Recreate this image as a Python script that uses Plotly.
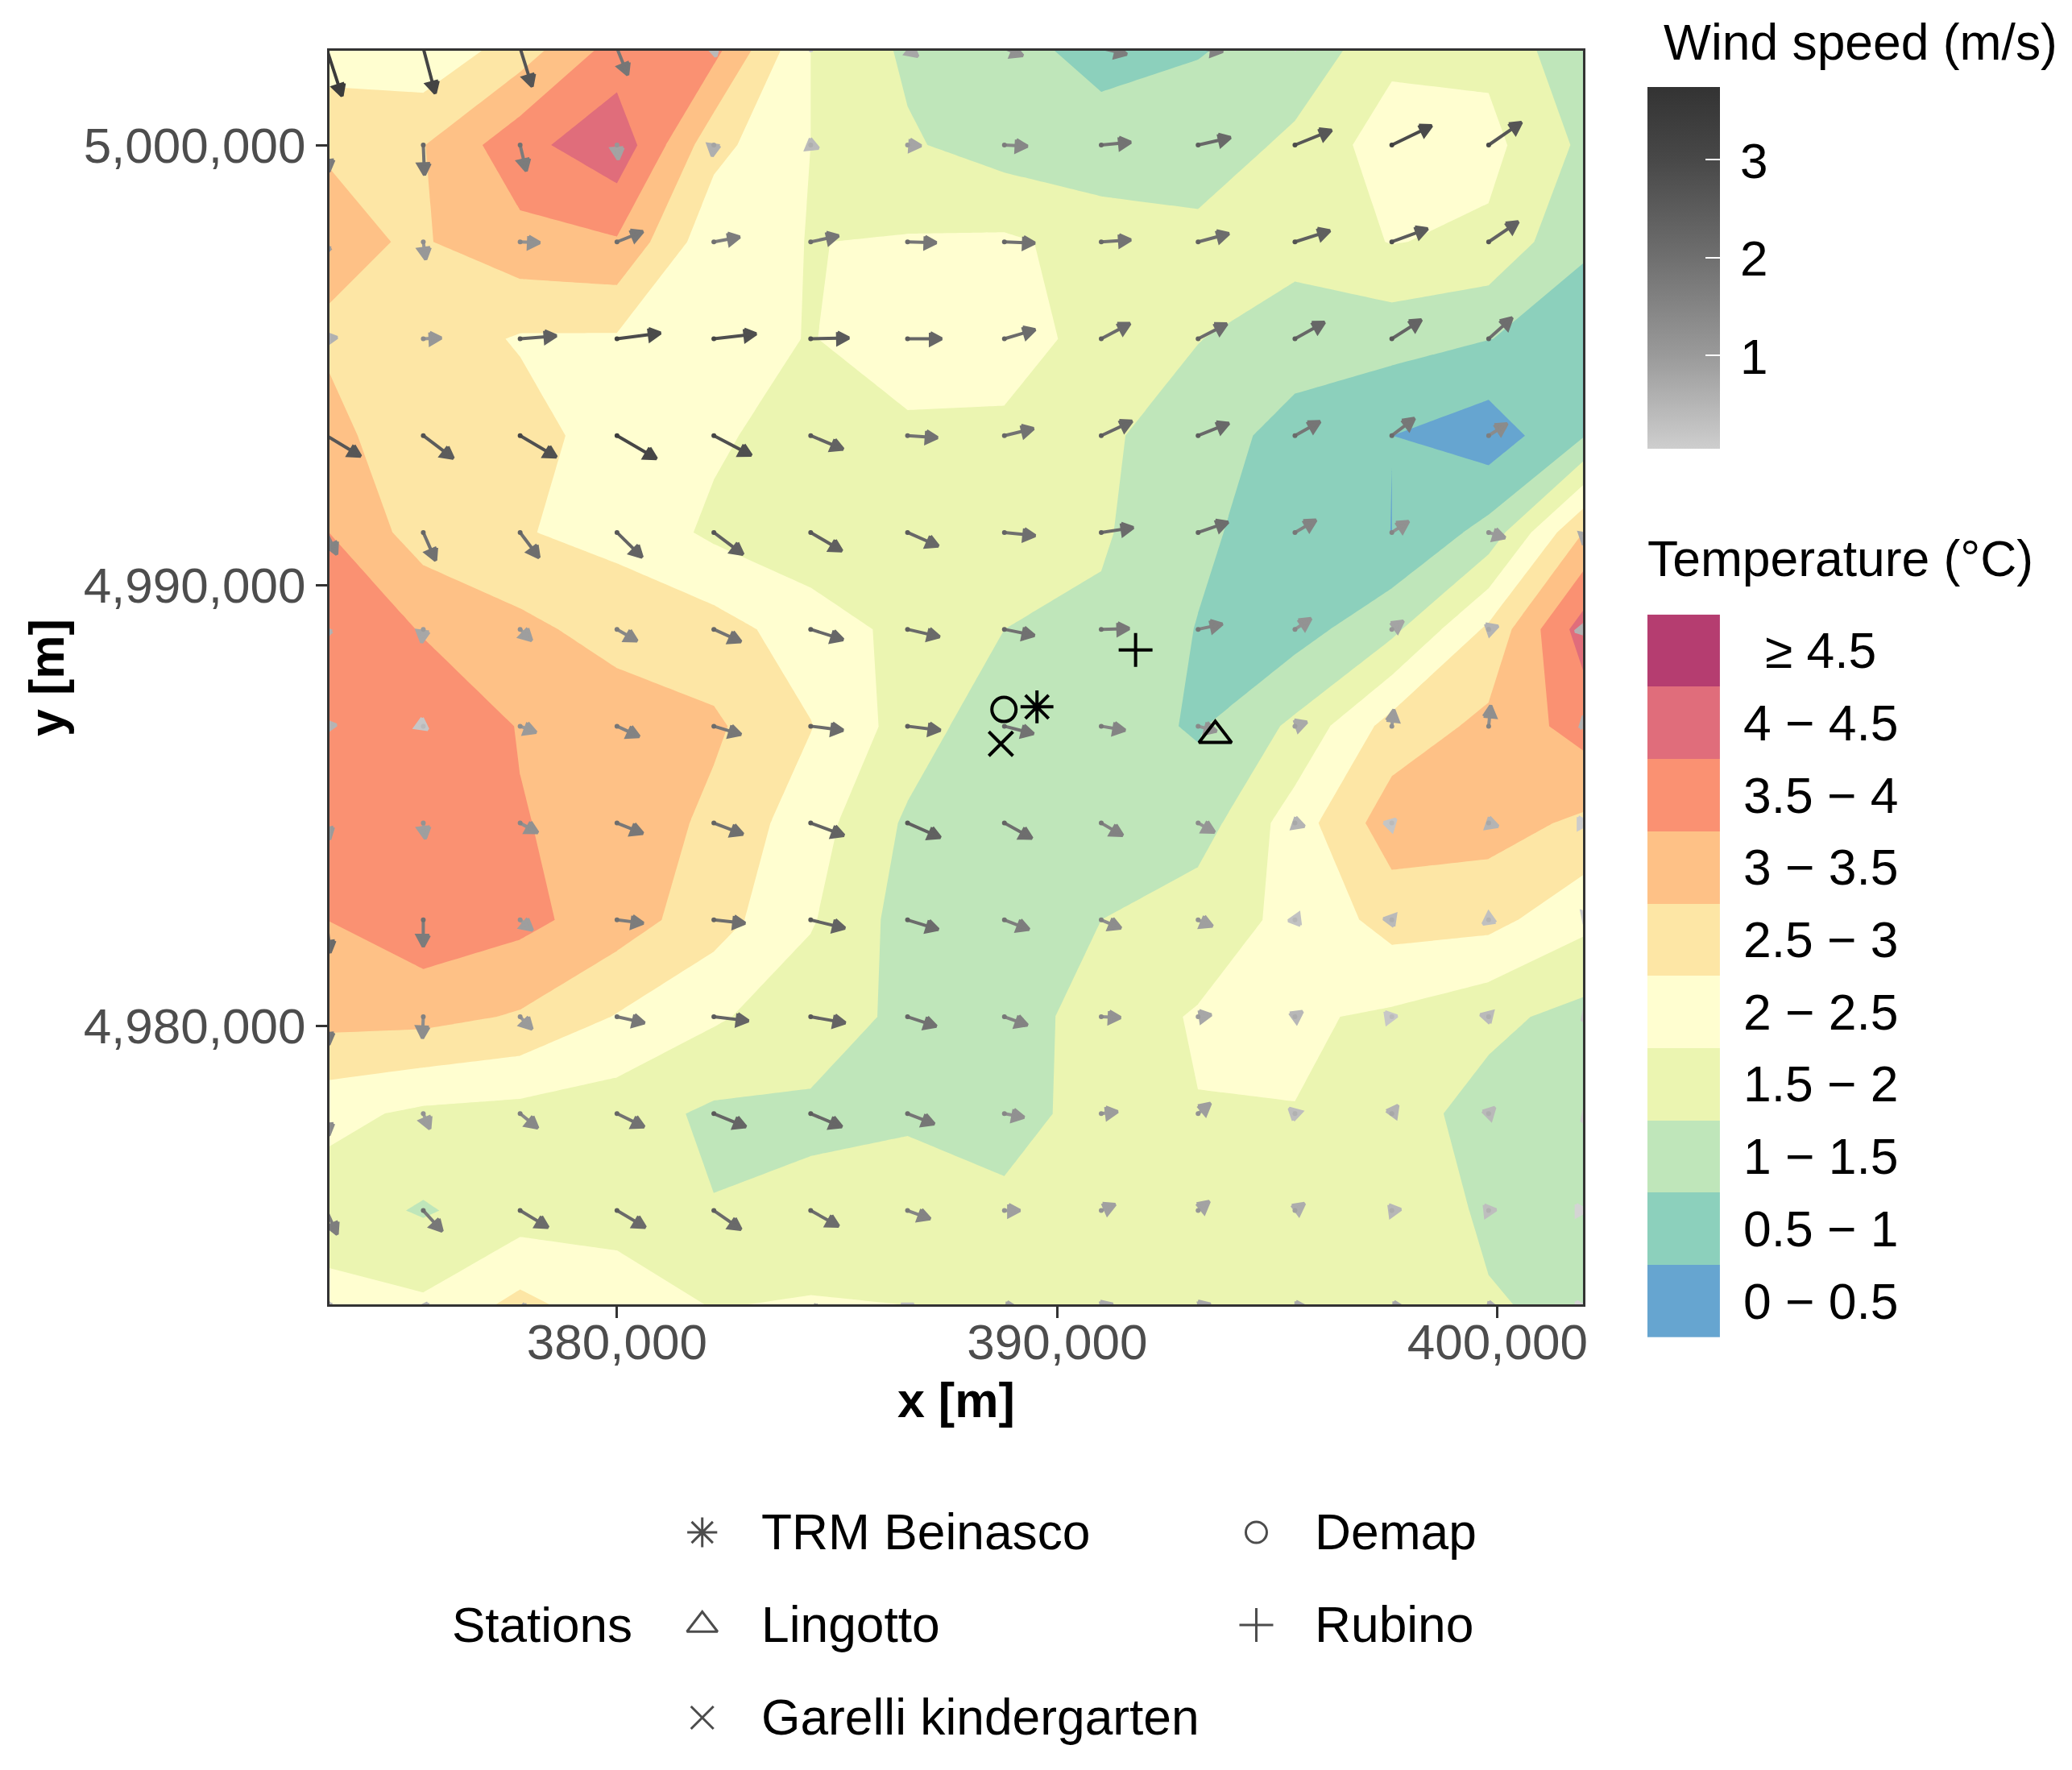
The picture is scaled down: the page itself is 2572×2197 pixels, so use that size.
import numpy as np
import plotly.graph_objects as go

# UTM grid of the model output (m)
grid_x = [373400, 375600, 377800, 380000, 382200, 384400, 386600,
          388800, 391000, 393200, 395400, 397600, 399800, 402000]
grid_y = [5002200, 5000000, 4997800, 4995600, 4993400, 4991200, 4989000,
          4986800, 4984600, 4982400, 4980200, 4978000, 4975800, 4973600]

# temperature (deg C), first row is the northern one
temperature = [
    [2.18, 2.09, 2.73, 3.70, 3.67, 2.00, 1.41, 1.11, 0.885, 0.98, 1.11, 1.87, 1.87, 1.11],
    [2.98, 2.98, 3.83, 4.36, 2.66, 2.00, 1.56, 1.27, 1.14, 1.15, 1.63, 2.25, 2.15, 1.38],
    [3.08, 2.96, 3.34, 3.45, 2.14, 1.99, 2.04, 2.08, 1.82, 1.68, 1.73, 2.02, 1.90, 1.05],
    [2.96, 2.78, 2.45, 2.44, 2.18, 1.98, 2.25, 2.20, 1.84, 1.52, 1.17, 1.19, 1.01, 0.80],
    [3.10, 2.79, 2.72, 2.25, 2.08, 1.77, 1.91, 1.91, 1.61, 1.17, 0.87, 0.5015, 0.20, 1.00],
    [3.52, 2.76, 2.53, 2.36, 1.905, 1.67, 1.67, 1.68, 1.56, 1.10, 0.72, 0.497, 1.18, 3.05],
    [3.85, 3.47, 3.13, 2.80, 2.70, 2.25, 1.86, 1.50, 1.41, 0.98, 0.79, 1.37, 2.60, 4.28],
    [3.85, 3.80, 3.48, 3.30, 3.08, 2.52, 1.78, 1.14, 1.20, 0.95, 1.60, 2.70, 3.13, 3.72],
    [3.90, 3.85, 3.52, 3.36, 2.88, 2.23, 1.42, 1.20, 1.25, 1.25, 2.25, 3.28, 3.20, 2.90],
    [3.50, 3.85, 3.64, 3.25, 2.71, 2.05, 1.29, 1.20, 1.50, 1.80, 2.10, 2.70, 2.66, 2.13],
    [3.17, 3.16, 2.95, 2.47, 2.07, 1.70, 1.41, 1.12, 1.84, 2.03, 2.07, 1.92, 1.63, 1.33],
    [2.15, 1.90, 1.83, 1.72, 1.41, 1.43, 1.47, 1.30, 1.70, 1.99, 1.99, 1.73, 1.30, 1.20],
    [1.73, 1.45, 1.75, 1.86, 1.52, 1.59, 1.60, 1.61, 1.75, 1.85, 1.85, 1.90, 1.40, 1.20],
    [2.19, 2.10, 2.67, 2.20, 1.99, 2.06, 2.01, 1.84, 1.80, 1.80, 1.75, 1.65, 1.55, 1.37],
]

# wind components (m/s), same order as temperature
wind_u = [
    [1.15, 0.88, 0.88, 0.79, 0.15, 0.03, 0.76, 1.36, 1.88, 1.82, 0.09, 2.12, 2.12, 1.52],
    [0.18, 0.09, 0.45, 0.09, -0.12, 0.58, 1.00, 1.70, 2.18, 2.39, 2.70, 2.94, 2.42, 2.12],
    [-0.30, 0.18, 1.45, 1.91, 1.91, 2.06, 2.12, 2.24, 2.18, 2.27, 2.58, 2.64, 2.18, 1.82],
    [0.79, 1.33, 2.67, 3.21, 3.12, 2.82, 2.52, 2.27, 2.12, 2.12, 2.18, 2.18, 1.73, 1.36],
    [2.52, 2.21, 2.67, 2.91, 2.76, 2.39, 2.21, 2.15, 2.27, 2.27, 1.85, 1.67, 1.36, 1.21],
    [0.76, 0.91, 1.39, 1.85, 2.15, 2.30, 2.27, 2.27, 2.36, 2.21, 1.55, 1.24, 1.21, -0.15],
    [-0.30, -0.12, 0.85, 1.48, 2.00, 2.39, 2.36, 2.21, 2.06, 1.79, 1.18, 0.85, 0.70, -0.76],
    [0.73, 0.33, 1.18, 1.64, 2.00, 2.39, 2.42, 2.15, 1.76, 1.36, 0.88, 0.15, 0.15, -0.15],
    [0.24, 0.15, 1.30, 1.91, 2.15, 2.45, 2.42, 2.03, 1.58, 1.21, 0.70, 0.30, 0.70, 0.30],
    [0.27, 0.00, 0.91, 1.94, 2.30, 2.52, 2.27, 1.82, 1.45, 1.06, -0.48, -0.61, -0.42, -0.09],
    [0.18, -0.06, 0.88, 2.03, 2.55, 2.55, 2.12, 1.70, 1.42, 0.97, 0.55, 0.39, -0.61, -0.24],
    [0.18, 0.48, 1.30, 2.00, 2.36, 2.30, 1.97, 1.45, 1.21, 0.91, -0.42, 0.45, 0.45, -0.09],
    [0.79, 1.39, 2.06, 2.09, 2.00, 2.06, 1.67, 1.15, 1.03, 0.82, 0.70, 0.67, 0.55, 0.15],
    [0.30, 0.30, 0.61, 0.76, 0.91, 0.76, 0.45, 1.00, 0.85, 0.91, 0.91, 0.97, 0.76, 0.15],
]
wind_v = [
    [-3.52, -3.33, -2.82, -1.97, -0.61, -0.24, -0.61, -0.55, -0.45, -0.24, -0.15, 1.52, 1.67, 1.21],
    [-1.97, -2.21, -1.91, -1.06, -0.82, -0.24, -0.06, -0.09, 0.21, 0.55, 1.09, 1.42, 1.67, 1.52],
    [-1.15, -1.30, -0.06, 0.76, 0.36, 0.45, -0.06, -0.09, 0.15, 0.61, 0.82, 0.97, 1.48, 1.36],
    [0.09, 0.06, 0.21, 0.42, 0.36, 0.06, 0.00, 0.67, 1.12, 1.09, 1.21, 1.39, 1.55, 1.36],
    [-1.52, -1.67, -1.58, -1.70, -1.45, -1.00, -0.15, 0.52, 1.06, 0.91, 1.03, 1.27, 0.88, 0.91],
    [-1.61, -2.06, -1.85, -1.82, -1.61, -1.36, -1.00, -0.24, 0.36, 0.76, 0.91, 0.82, -0.39, -0.91],
    [-0.76, -0.97, -0.82, -0.85, -0.91, -0.76, -0.55, -0.45, 0.06, 0.39, 0.79, 0.61, 0.24, -0.15],
    [0.09, -0.24, -0.45, -0.76, -0.61, -0.30, -0.30, -0.55, -0.30, -0.36, 0.30, 1.21, 1.52, 0.76],
    [-1.21, -1.15, -0.70, -0.76, -0.82, -0.91, -1.06, -1.12, -0.91, -0.67, -0.24, 0.30, -0.24, 0.00],
    [-2.42, -1.97, -0.76, -0.24, -0.24, -0.61, -0.70, -0.70, -0.61, -0.45, -0.06, 0.09, -0.30, -0.30],
    [-2.06, -1.58, -0.91, -0.45, -0.30, -0.45, -0.70, -0.61, -0.06, 0.15, 0.39, 0.06, 0.15, -0.30],
    [-1.61, -1.12, -1.06, -0.97, -0.97, -0.97, -0.76, -0.27, 0.15, 0.76, 0.39, 0.61, 0.45, 0.30],
    [-1.76, -1.52, -1.24, -1.24, -1.39, -1.15, -0.61, 0.00, 0.45, 0.67, 0.52, 0.09, 0.06, 0.00],
    [-0.60, -0.61, -0.61, -0.76, -0.76, -0.61, 0.24, -0.09, 0.24, 0.24, 0.00, -0.06, -0.15, 0.00],
]

# monitoring stations
station_names = ["TRM Beinasco", "Lingotto", "Garelli kindergarten", "Demap", "Rubino"]
station_x = [389540, 393590, 388720, 388790, 391780]
station_y = [4987240, 4986590, 4986400, 4987180, 4988530]
station_symbols = ["asterisk-open", "triangle-up-open", "x-thin-open", "circle-open", "cross-thin-open"]
station_sizes = [34, 35, 30, 30, 30]

temp_labels = ["0 − 0.5", "0.5 − 1", "1 − 1.5", "1.5 − 2", "2 − 2.5",
               "2.5 − 3", "3 − 3.5", "3.5 − 4", "4 − 4.5", "≥ 4.5"]
temp_colors = ["#66A5D0", "#8CD0BC", "#BFE6BA", "#EBF5B1", "#FFFED0",
               "#FDE6A5", "#FEC186", "#FA9172", "#E06D7B", "#B53D70"]
speed_ticks = [1, 2, 3]

FONT = "Liberation Sans"
W, H = 2572, 2197
X_STRETCH = 1.002  # small horizontal correction found by comparing with the reference
ARROW_SCALE = 308  # metres of map per m/s
HEAD_LEN = 256     # arrow head length, metres of map
HEAD_HALF = 137    # arrow head half width, metres of map


def px(x):
    return x * X_STRETCH / W


def py(y):
    return 1 - y / H


def speed_to_y(s):
    # pixel height of a wind speed on the colour bar
    return 557 - (s - 0.05) / 3.69 * 449


# stepped colour scale, one band per 0.5 deg C
temp_scale = []
for i, c in enumerate(temp_colors):
    temp_scale.append([i / 10, c])
    temp_scale.append([(i + 1) / 10, c])

speed_stops = [0.05, 1, 2, 3, 3.74]
grey_stops = [206, 154, 111, 72, 51]
arrow_grey_stops = [218, 166, 123, 84, 58]
speed_scale = [[min(1, (s - 0.05) / 3.69), f"rgb({g},{g},{g})"] for s, g in zip(speed_stops, grey_stops)]

fig = go.Figure()

# filled isotherms
fig.add_trace(go.Contour(
    x=grid_x,
    y=grid_y[::-1],
    z=np.array(temperature)[::-1],
    zmin=0,
    zmax=5,
    colorscale=temp_scale,
    showscale=False,
    autocontour=False,
    contours=dict(start=0, end=5, size=0.5, coloring="fill", showlines=False),
    line=dict(width=0, smoothing=0),
))

# wind arrows: shaft from the grid point, head of fixed size around the tip
for i, y in enumerate(grid_y):
    for j, x in enumerate(grid_x):
        u, v = wind_u[i][j], wind_v[i][j]
        speed = max(np.hypot(u, v), 0.01)
        ux, uy = u / speed, v / speed
        tip_x, tip_y = x + u * ARROW_SCALE, y + v * ARROW_SCALE
        base_x, base_y = tip_x - ux * HEAD_LEN, tip_y - uy * HEAD_LEN
        grey = int(np.interp(speed, speed_stops, arrow_grey_stops))
        col = f"rgb({grey},{grey},{grey})"
        fig.add_trace(go.Scatter(
            x=[x, tip_x, None, base_x - uy * HEAD_HALF, tip_x, base_x + uy * HEAD_HALF, base_x - uy * HEAD_HALF],
            y=[y, tip_y, None, base_y + ux * HEAD_HALF, tip_y, base_y - ux * HEAD_HALF, base_y + ux * HEAD_HALF],
            mode="lines",
            fill="toself",
            fillcolor=col,
            line=dict(color=col, width=4),
            showlegend=False,
            hoverinfo="skip",
        ))

# invisible points, they only carry the wind speed colour bar
all_x, all_y = np.meshgrid(grid_x, grid_y)
fig.add_trace(go.Scatter(
    x=all_x.ravel(),
    y=all_y.ravel(),
    mode="markers",
    marker=dict(
        size=0,
        color=np.hypot(wind_u, wind_v).ravel(),
        colorscale=speed_scale,
        cmin=0.05,
        cmax=3.74,
        colorbar=dict(
            x=px(2046), xanchor="left", xpad=0,
            y=py(108), yanchor="top", ypad=0,
            len=449, lenmode="pixels",
            thickness=90, thicknessmode="pixels",
            outlinewidth=0, borderwidth=0,
            tickvals=speed_ticks,
            showticklabels=False,
            ticks="inside", ticklen=18, tickwidth=2, tickcolor="white",
        ),
    ),
    showlegend=False,
    hoverinfo="skip",
))

# stations on the map
for name, sx, sy, sym, size in zip(station_names, station_x, station_y, station_symbols, station_sizes):
    fig.add_trace(go.Scatter(
        x=[sx], y=[sy], mode="markers", name=name, showlegend=False,
        marker=dict(symbol=sym, size=size, color="black", line=dict(color="black", width=4)),
    ))

# temperature legend keys
fig.add_trace(go.Heatmap(
    x=[0],
    y=temp_labels,
    z=[[0.25 + 0.5 * k] for k in range(10)],
    zmin=0,
    zmax=5,
    colorscale=temp_scale,
    showscale=False,
    xaxis="x2",
    yaxis="y2",
    hoverinfo="skip",
))

# station legend keys, pixel positions of the layout
key_x = [872, 872, 872, 1560, 1560]
key_y = [1902, 2017, 2132, 1902, 2017]
fig.add_trace(go.Scatter(
    x=key_x,
    y=key_y,
    mode="markers",
    marker=dict(symbol=station_symbols, size=[31, 33, 28, 26, 30], color="black",
                line=dict(color="black", width=3)),
    xaxis="x3",
    yaxis="y3",
    showlegend=False,
    hoverinfo="skip",
))

annotations = [
    dict(x=px(2064), y=py(53), text="Wind speed (m/s)", xanchor="left", yanchor="middle", font_size=62.4),
    dict(x=px(2044), y=py(693), text="Temperature (°C)", xanchor="left", yanchor="middle", font_size=62.4),
    dict(x=px(559), y=py(2016), text="Stations", xanchor="left", yanchor="middle", font_size=62),
    dict(x=px(1187), y=py(1738), text="<b>x [m]</b>", xanchor="center", yanchor="middle", font_size=61),
]
for s in speed_ticks:
    annotations.append(dict(x=px(2178), y=py(speed_to_y(s) + 1), text=str(s),
                            xanchor="center", yanchor="middle", font_size=62))
for k, label in enumerate(temp_labels):
    annotations.append(dict(x=px(2261), y=py(1660 - (k + 0.5) * 89.73), text=label,
                            xanchor="center", yanchor="middle", font_size=62.4))
for name, kx, ky in zip(station_names, key_x, key_y):
    annotations.append(dict(x=px(kx + 71), y=py(ky - 1), text=name, xanchor="left", yanchor="middle", font_size=62.3))
for a in annotations:
    a.update(xref="paper", yref="paper", showarrow=False)
    a["font"] = dict(family=FONT, color="black", size=a.pop("font_size"))

# left half of the white colour bar ticks
shapes = []
for s in speed_ticks:
    yy = speed_to_y(s)
    shapes.append(dict(type="line", xref="paper", yref="paper", x0=px(2046), x1=px(2064),
                       y0=py(yy), y1=py(yy), line=dict(color="white", width=2)))

axis_style = dict(
    showgrid=False, zeroline=False, showline=True, mirror=True,
    linecolor="#333333", linewidth=3,
    ticks="outside", ticklen=14, tickwidth=3, tickcolor="#333333",
    tickfont=dict(family=FONT, size=62, color="#4D4D4D"),
    tickformat=",d",
)

fig.update_layout(
    width=W,
    height=H,
    autosize=False,
    margin=dict(l=0, r=0, t=0, b=0),
    paper_bgcolor="white",
    plot_bgcolor="rgba(0,0,0,0)",
    showlegend=False,
    annotations=annotations,
    shapes=shapes,
    xaxis=dict(
        domain=[px(409), px(1965.5)],
        range=[373467, 401940],
        tickvals=[380000, 390000, 400000],
        ticklabelstandoff=-24,
        **axis_style,
    ),
    yaxis=dict(
        domain=[py(1619.1), py(62.9)],
        range=[4973667, 5002143],
        tickvals=[4980000, 4990000, 5000000],
        title=dict(text="<b>y [m]</b>", font=dict(family=FONT, size=61, color="black"), standoff=5),
        **axis_style,
    ),
    xaxis2=dict(domain=[px(2045.6), px(2135.8)], range=[-0.5, 0.5], anchor="y2", visible=False),
    yaxis2=dict(domain=[py(1660), py(762.7)], anchor="x2", visible=False, type="category"),
    xaxis3=dict(domain=[0, 1], range=[0, W / X_STRETCH], anchor="y3", visible=False),
    yaxis3=dict(domain=[0, 1], range=[H, 0], anchor="x3", visible=False),
)

fig.write_html(
    "out.html",
    config={"displayModeBar": False},
    post_script="document.body.style.margin='0';"
                "document.body.style.overflow='hidden';"
                "document.documentElement.style.overflow='hidden';",
)
